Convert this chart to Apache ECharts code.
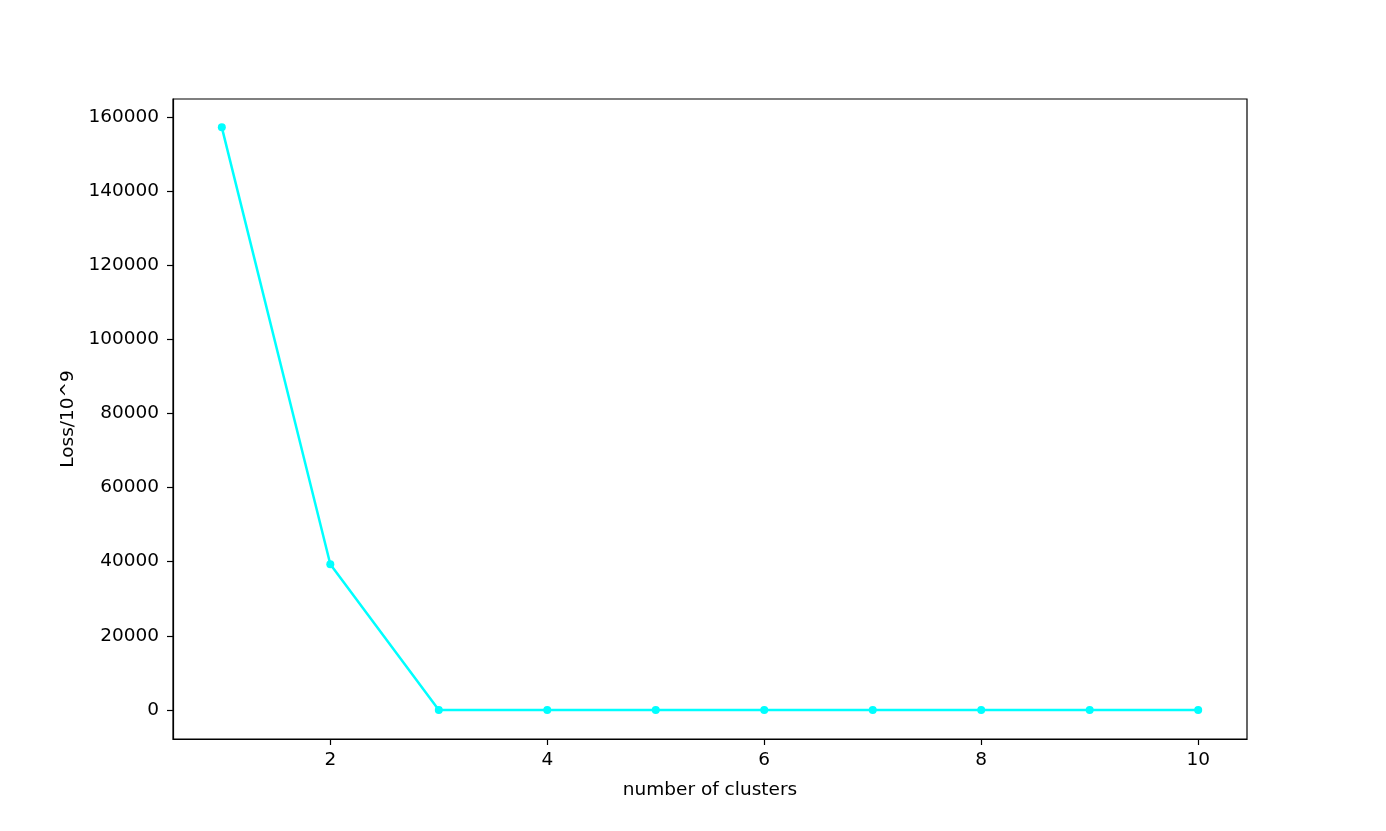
<!DOCTYPE html>
<html>
<head>
<meta charset="utf-8">
<script src="https://cdn.jsdelivr.net/npm/echarts@6/dist/echarts.min.js"></script>
<style>
html,body{margin:0;padding:0;background:#fff;}
#chart{width:1386px;height:831px;}
</style>
</head>
<body>
<div id="chart"></div>
<script>
const clusters = [1, 2, 3, 4, 5, 6, 7, 8, 9, 10];
const loss = [157200, 39300, 0, 0, 0, 0, 0, 0, 0, 0];
const xTicks = [2, 4, 6, 8, 10];
const yTicks = [0, 20000, 40000, 60000, 80000, 100000, 120000, 140000, 160000];

const chart = echarts.init(document.getElementById('chart'), null, {renderer: 'canvas'});
const font = 'DejaVu Sans';
chart.setOption({
  animation: false,
  backgroundColor: '#ffffff',
  grid: {left: 173, top: 99, width: 1074, height: 640, show: true, borderColor: '#000', borderWidth: 1.2, backgroundColor: 'transparent'},
  xAxis: {
    type: 'value', min: 0.55, max: 10.45,
    name: 'number of clusters', nameLocation: 'middle', nameGap: 42,
    nameTextStyle: {fontFamily: font, fontSize: 18.5, color: '#000'},
    axisLine: {show: true, onZero: false, lineStyle: {color: '#000', width: 1.2}},
    axisTick: {show: true, length: 6, lineStyle: {color: '#000', width: 1.2}, customValues: xTicks},
    axisLabel: {fontFamily: font, fontSize: 18.5, color: '#000', margin: 12, customValues: xTicks, formatter: v => String(v)},
    splitLine: {show: false}
  },
  yAxis: {
    type: 'value', min: -7850, max: 164850,
    name: 'Loss/10^9', nameLocation: 'middle', nameGap: 93,
    nameTextStyle: {fontFamily: font, fontSize: 18.5, color: '#000'},
    axisLine: {show: true, onZero: false, lineStyle: {color: '#000', width: 1.2}},
    axisTick: {show: true, length: 6, lineStyle: {color: '#000', width: 1.2}, customValues: yTicks},
    axisLabel: {fontFamily: font, fontSize: 18.5, color: '#000', margin: 14, customValues: yTicks, formatter: v => String(v)},
    splitLine: {show: false}
  },
  series: [{
    type: 'line',
    data: clusters.map((c, i) => [c, loss[i]]),
    symbol: 'circle', symbolSize: 8,
    lineStyle: {color: '#00ffff', width: 2.5},
    itemStyle: {color: '#00ffff'}
  }]
});
</script>
</body>
</html>
